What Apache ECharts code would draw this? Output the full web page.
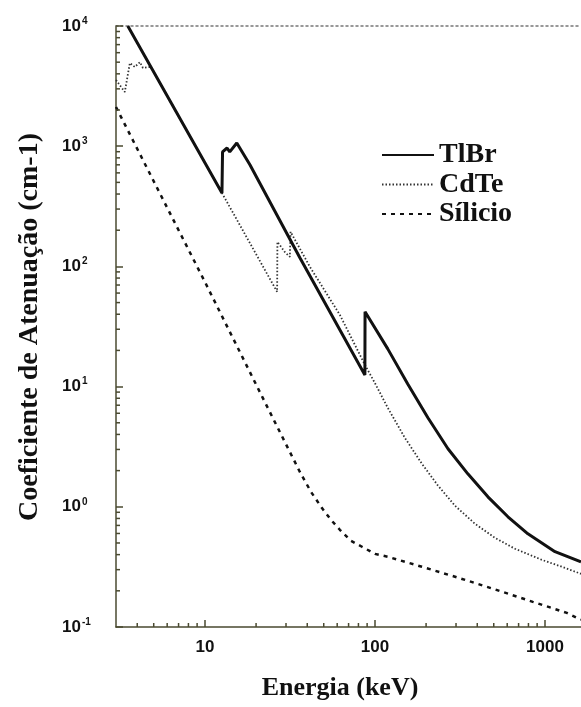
<!DOCTYPE html>
<html>
<head>
<meta charset="utf-8">
<script src="https://cdn.jsdelivr.net/npm/echarts@6/dist/echarts.min.js"></script>
<style>html,body{margin:0;padding:0;background:#fff;}#c{width:581px;height:707px;}</style>
</head>
<body>
<div id="c"></div>
<script>
// Energy (keV) and attenuation coefficient (cm-1)
const tlbrE  = [3.52, 12.6, 12.7, 13.5, 14.0, 15.4, 18.4, 36.2, 87.3, 87.5, 119, 156, 205, 269, 352, 462, 606, 794, 1146, 1630];
const tlbrMu = [10000, 408, 896, 966, 896, 1064, 700, 118, 12.5, 41.9, 20.6, 10.5, 5.5, 3.04, 1.88, 1.21, 0.826, 0.596, 0.423, 0.349];

const cdteE  = [3.0, 3.38, 3.62, 3.87, 4.15, 4.32, 4.81, 12.4, 26.6, 26.7, 29.5, 31.6, 31.9, 41.5, 62.2, 87.3, 100, 119, 150, 189, 235, 296, 388, 508, 666, 959, 1259, 1630];
const cdteMu = [3556, 2825, 4925, 4560, 5010, 4480, 4570, 425, 61.4, 160, 132, 120, 194, 99, 39.5, 15.2, 10.7, 6.66, 3.75, 2.28, 1.50, 1.02, 0.722, 0.552, 0.448, 0.362, 0.317, 0.277];

const siE  = [3.0, 10, 21.9, 36.2, 42.1, 48.7, 55.1, 62.2, 72.3, 83.9, 100, 119, 189, 296, 456, 849, 1346, 1630];
const siMu = [2117, 74.3, 8.05, 1.95, 1.33, 0.98, 0.78, 0.644, 0.521, 0.465, 0.406, 0.384, 0.317, 0.262, 0.216, 0.162, 0.131, 0.115];

const seriesNames = ['TlBr', 'CdTe', 'Sílicio'];
const xTickLabels = ['10', '100', '1000'];
const xMinorTicks = [4,5,6,7,8,9,20,30,40,50,60,70,80,90,200,300,400,500,600,700,800,900];
const yMinorTicks = [0.2,0.3,0.4,0.5,0.6,0.7,0.8,0.9,2,3,4,5,6,7,8,9,20,30,40,50,60,70,80,90,200,300,400,500,600,700,800,900,2000,3000,4000,5000,6000,7000,8000,9000];
const xMin = 3, xMax = 1630, yMin = 0.1, yMax = 10000;

const zip = (a, b) => a.map((v, i) => [v, b[i]]);
const axisColor = '#4a4a30';
const isPow10 = v => Math.abs(Math.log10(v) - Math.round(Math.log10(v))) < 1e-6;

const chart = echarts.init(document.getElementById('c'), null, {renderer: 'canvas'});
chart.setOption({
  animation: false,
  backgroundColor: '#ffffff',
  grid: {left: 116, top: 26, right: 0, bottom: 80, containLabel: false},
  xAxis: [{
    type: 'log', logBase: 10, min: xMin, max: xMax,
    axisLine: {show: true, lineStyle: {color: axisColor, width: 1.5}},
    axisTick: {show: true, inside: true, length: 7, lineStyle: {color: axisColor, width: 1.5}},
    splitLine: {show: false},
    axisLabel: {
      margin: 12, color: '#111', fontFamily: 'Liberation Sans', fontWeight: 'bold', fontSize: 17,
      showMinLabel: false, showMaxLabel: false,
      formatter: v => (isPow10(v) && xTickLabels.indexOf(String(Math.round(v))) >= 0) ? String(Math.round(v)) : ''
    }
  }, {
    type: 'log', logBase: 10, min: xMin, max: xMax, position: 'top',
    axisLine: {show: true, lineStyle: {color: '#777', width: 1.5, type: [2, 3]}},
    axisTick: {show: false}, axisLabel: {show: false}, splitLine: {show: false}
  }],
  yAxis: {
    type: 'log', logBase: 10, min: yMin, max: yMax,
    axisLine: {show: true, lineStyle: {color: axisColor, width: 1.5}},
    axisTick: {show: true, inside: true, length: 7, lineStyle: {color: axisColor, width: 1.5}},
    splitLine: {show: false},
    axisLabel: {
      margin: 54, align: 'left',
      formatter: v => '{b|10}{s|' + Math.round(Math.log10(v)) + '}',
      rich: {
        b: {fontFamily: 'Liberation Sans', fontWeight: 'bold', fontSize: 17, color: '#111'},
        s: {fontFamily: 'Liberation Sans', fontWeight: 'bold', fontSize: 10, color: '#111', padding: [0, 0, 10, 1]}
      }
    }
  },
  legend: {
    data: seriesNames,
    orient: 'vertical', left: 376, top: 136,
    itemWidth: 52, itemHeight: 14, itemGap: 1.5,
    itemStyle: {color: 'rgba(0,0,0,0)', borderWidth: 0, opacity: 0},
    textStyle: {fontFamily: 'Liberation Serif', fontWeight: 'bold', fontSize: 28, color: '#111'}
  },
  graphic: [
    {type: 'text', x: 340, y: 688, style: {text: 'Energia (keV)', font: 'bold 26px "Liberation Serif"', fill: '#111', align: 'center', verticalAlign: 'middle'}},
    {type: 'text', x: 30, y: 327, rotation: Math.PI / 2, style: {text: 'Coeficiente de Atenuação (cm-1)', font: 'bold 28px "Liberation Serif"', fill: '#111', align: 'center', verticalAlign: 'middle'}}
  ],
  series: [
    {name: seriesNames[0], type: 'line', data: zip(tlbrE, tlbrMu), symbol: 'none', z: 5,
     lineStyle: {color: '#111', width: 3}, itemStyle: {color: '#111'}},
    {name: seriesNames[1], type: 'line', data: zip(cdteE, cdteMu), symbol: 'none', z: 3,
     lineStyle: {color: '#333', width: 1.8, type: [1.5, 2]}, itemStyle: {color: '#333'}},
    {name: seriesNames[2], type: 'line', data: zip(siE, siMu), symbol: 'none', z: 3,
     lineStyle: {color: '#111', width: 2.5, type: [4, 5]}, itemStyle: {color: '#111'}},
    {type: 'custom', silent: true, clip: false, z: 6,
     data: xMinorTicks.map(v => [v, yMin]),
     renderItem: (params, api) => {
       const p = api.coord([api.value(0), api.value(1)]);
       return {type: 'line', shape: {x1: p[0], y1: p[1], x2: p[0], y2: p[1] - 4}, style: {stroke: axisColor, lineWidth: 1.5}};
     }},
    {type: 'custom', silent: true, clip: false, z: 6,
     data: yMinorTicks.map(v => [xMin, v]),
     renderItem: (params, api) => {
       const p = api.coord([api.value(0), api.value(1)]);
       return {type: 'line', shape: {x1: p[0], y1: p[1], x2: p[0] + 4, y2: p[1]}, style: {stroke: axisColor, lineWidth: 1.5}};
     }}
  ]
});
</script>
</body>
</html>
